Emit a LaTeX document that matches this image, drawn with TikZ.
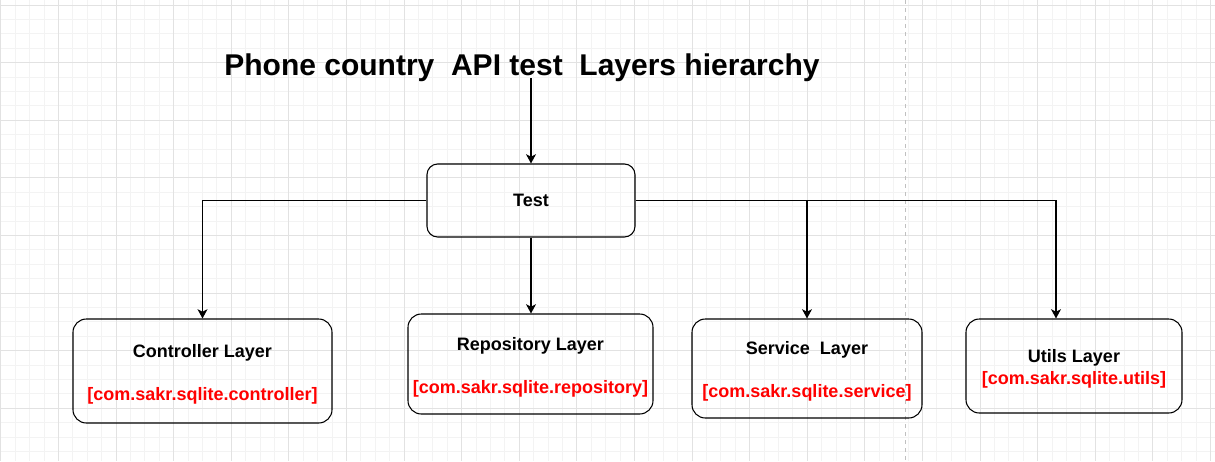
\documentclass[tikz,border=0pt]{standalone}
\usepackage{fontspec}
\setmainfont{Liberation Sans}
\usetikzlibrary{arrows.meta,positioning}
\definecolor{gridminor}{HTML}{F3F3F3}
\definecolor{gridmajor}{HTML}{E2E2E2}
\definecolor{pagebreak}{HTML}{C0C0C0}
\definecolor{pkgred}{HTML}{FF0000}
\newcommand{\lift}{\rule{0pt}{14.3pt}}

\begin{document}
\begin{tikzpicture}[x=0.75pt,y=-0.75pt,
	layerbox/.style={draw, rounded corners=10pt, line width=0.8pt, align=center, inner sep=0pt,
		font=\bfseries\fontsize{13.5}{16.2}\selectfont},
	link/.style={line width=0.8pt, -{Stealth[length=7pt,width=7.5pt,inset=2pt]}}]
	\useasboundingbox (0,0) rectangle (1215,461);
	\fill[white] (0,0) rectangle (1215,461);
	\foreach \i in {0,...,84}
		\path[draw, gridminor, line width=0.6pt] ({0.7+14.4*\i},0) -- ({0.7+14.4*\i},461);
	\foreach \j in {0,...,31}
		\path[draw, gridminor, line width=0.6pt] (0,{5+14.4*\j}) -- (1215,{5+14.4*\j});
	\foreach \i in {0,...,21}
		\path[draw, gridmajor, line width=0.6pt] ({0.7+57.6*\i},0) -- ({0.7+57.6*\i},461);
	\foreach \j in {0,...,7}
		\path[draw, gridmajor, line width=0.6pt] (0,{5+57.6*\j}) -- (1215,{5+57.6*\j});
	\path[draw, pagebreak, dashed, line width=0.6pt] (905.7,0) -- (905.7,461);

	\draw (522,68) node(title) [font=\bfseries\fontsize{22.5}{27}\selectfont] {Phone country~~API test~~Layers hierarchy};
	\coordinate (titlein) at (531,78);
	\draw (531,200.5) node(test) [layerbox, rounded corners=8pt, minimum width=156pt, minimum height=54.75pt] {Test};
	\draw (202.5,371) node(ctrl) [layerbox, minimum width=194.25pt, minimum height=78pt]
		{\lift Controller Layer\\[16.2pt]\textcolor{pkgred}{[com.sakr.sqlite.controller]}};
	\draw (530.5,364) node(repo) [layerbox, minimum width=183.75pt, minimum height=75pt]
		{\lift Repository Layer\\[16.2pt]\textcolor{pkgred}{[com.sakr.sqlite.repository]}};
	\draw (807,368.5) node(serv) [layerbox, minimum width=172.5pt, minimum height=74.25pt]
		{\lift Service~~Layer\\[16.2pt]\textcolor{pkgred}{[com.sakr.sqlite.service]}};
	\draw (1074,366) node(utils) [layerbox, minimum width=162pt, minimum height=70.5pt]
		{\lift Utils Layer\\\textcolor{pkgred}{[com.sakr.sqlite.utils]}};
	\coordinate (utilsin) at ([xshift=-13.5pt]utils.north);

	\path[draw, link] (titlein) -- (test.north);
	\path[draw, link] (test.west) -| (ctrl.north);
	\path[draw, link] (test.south) -- (test.south |- repo.north);
	\path[draw, link] (test.east) -| (serv.north);
	\path[draw, link] (test.east) -| (utilsin);
\end{tikzpicture}
\end{document}
